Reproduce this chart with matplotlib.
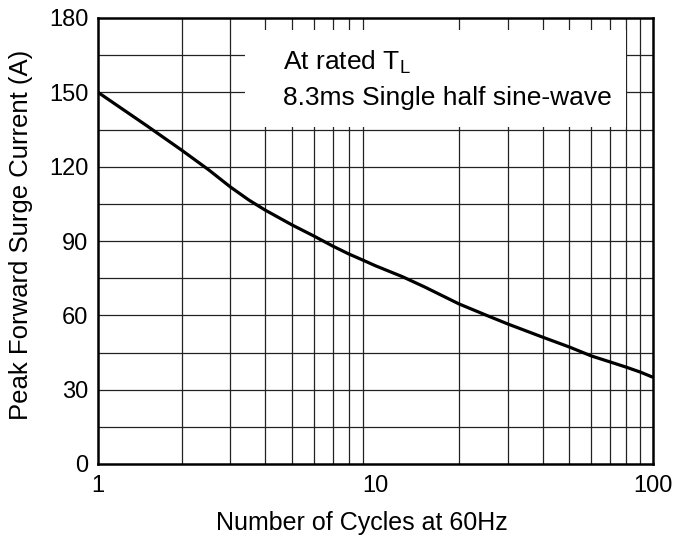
import matplotlib
matplotlib.use("Agg")
import matplotlib.pyplot as plt
from matplotlib.patches import Rectangle

plt.rcParams['font.family'] = ['Liberation Sans', 'DejaVu Sans']

cycles = [1, 1.5, 2, 2.5, 3, 3.5, 4, 5, 6, 7, 8, 9, 10, 12.5, 15, 20, 25, 30, 40, 50, 60, 70, 80, 90, 100]
current = [150, 136.5, 126.7, 118.8, 111.8, 106.5, 102.5, 96.5, 92, 88, 84.8, 82.3, 80,
           75.6, 71.5, 64.6, 60.1, 56.5, 51.2, 47.2, 43.6, 41.2, 39.1, 37.1, 35]

y_ticks = [0, 30, 60, 90, 120, 150, 180]
x_ticks = [1, 10, 100]
x_tick_labels = ['1', '10', '100']

xlabel = 'Number of Cycles at 60Hz'
ylabel = 'Peak Forward Surge Current (A)'
note1 = 'At rated T$_\\mathregular{L}$'
note2 = '8.3ms Single half sine-wave'

W, H = 673, 540
fig = plt.figure(figsize=(W / 100, H / 100), dpi=100)
ax = fig.add_axes([98 / W, 1 - 464 / H, (653 - 98) / W, (464 - 18) / H])

ax.set_xscale('log')
ax.set_xlim(1, 100)
ax.set_ylim(0, 180)

# grid
for v in list(range(2, 10)) + list(range(20, 100, 10)):
    ax.axvline(v, color='#222222', lw=0.9, zorder=1)
for h in range(15, 180, 15):
    ax.axhline(h, color='#222222', lw=0.9, zorder=1)

# white box for annotation
ax.add_patch(Rectangle((3.4, 136), 80 - 3.4, 175 - 136, facecolor='white',
                       edgecolor='none', zorder=2))

ax.plot(cycles, current, color='black', lw=2.3, zorder=3,
        solid_capstyle='butt', solid_joinstyle='round')

ax.set_xticks(x_ticks)
ax.set_xticklabels(x_tick_labels)
ax.xaxis.set_minor_locator(matplotlib.ticker.NullLocator())
ax.set_yticks(y_ticks)
ax.tick_params(length=0, labelsize=17)
ax.tick_params(axis='y', pad=7)
ax.tick_params(axis='x', pad=8)

for s in ax.spines.values():
    s.set_linewidth(1.8)
    s.set_zorder(4)

fig.text(362 / W, 1 - 530 / H, xlabel, fontsize=18, ha='center', va='baseline')
fig.text(21 / W, 1 - 235 / H, ylabel, fontsize=18.5, ha='center', va='center', rotation=90)

ax.text(0.333, (464 - 70) / 446, note1, transform=ax.transAxes, fontsize=19,
        va='baseline', ha='left', zorder=5)
ax.text(0.333, (464 - 105) / 446, note2, transform=ax.transAxes, fontsize=19,
        va='baseline', ha='left', zorder=5)

fig.savefig('out.png', dpi=100)
